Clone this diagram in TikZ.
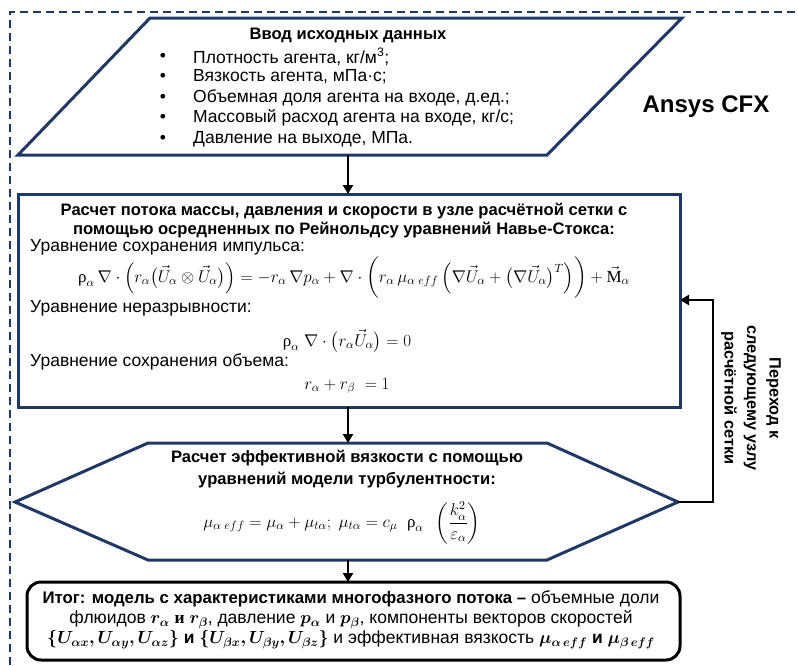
\documentclass[tikz,border=0pt]{standalone}
\usepackage{fix-cm}
\usepackage{amsmath}
\usepackage{bm}
\usepackage[no-math]{fontspec}
\setmainfont{Liberation Sans}
\newfontfamily\grfont{Liberation Serif}
\usetikzlibrary{arrows.meta}
\definecolor{navy}{HTML}{1F3864}
\newcommand\urho{\text{\grfont ρ}}
\newcommand\uM{\text{\grfont M}}
\begin{document}
\begin{tikzpicture}[x=1pt,y=-1pt,
  shp/.style={draw=navy,line width=3pt,line join=miter},
  arr/.style={line width=2.4pt,-{Triangle[length=9pt,width=10pt]}},
  txt/.style={font=\fontsize{17.5}{20.5}\selectfont,inner sep=0pt},
  btxt/.style={font=\fontsize{16.6}{19}\selectfont\bfseries,inner sep=0pt},
  eq/.style={font=\fontsize{17}{20}\selectfont,inner sep=0pt}]
\useasboundingbox (0,0) rectangle (798,665);
% frame
\draw[navy,line width=1.1pt,dash pattern=on 8pt off 5pt] (10,665) -- (10,12) -- (798,12);
% input parallelogram
\draw[shp] (150,18) -- (682,18) -- (547,155) -- (18,155) -- cycle;
\coordinate (inbot) at (348,155);
\node[btxt] (intitle) at (348,35) {Ввод исходных данных};
\foreach \y/\t [count=\i] in {57/{Плотность агента, кг/м\textsuperscript{3};},
  77/{Вязкость агента, мПа·с;},
  98/{Объемная доля агента на входе, д.ед.;},
  118/{Массовый расход агента на входе, кг/с;},
  139/{Давление на выходе, МПа.}}{
  \node[txt] (bul\i) at (163,\y) {•};
  \node[txt,anchor=west] (in\i) at (193,\y) {\t};
}
\node[font=\fontsize{24}{28}\selectfont\bfseries,inner sep=0pt] (ansys) at (706,107) {Ansys CFX};
% calc rectangle
\draw[shp] (18,194) rectangle (680,407);
\coordinate (calctop) at (348,194);
\coordinate (calcbot) at (348,407);
\coordinate (calcright) at (680,300);
\node[btxt,align=center] (calctitle) at (344,221) {Расчет потока массы, давления и скорости в узле расчётной сетки с\\помощью осредненных по Рейнольдсу уравнений Навье-Стокса:};
\node[txt,anchor=west] (l1) at (30,247) {Уравнение сохранения импульса:};
\node[eq] (eq1) at (354,278) {$\urho_\alpha\,\nabla\cdot\Bigl(r_\alpha\bigl(\vec{U}_\alpha\otimes\vec{U}_\alpha\bigr)\Bigr)=-r_\alpha\,\nabla p_\alpha+\nabla\cdot\biggl(r_\alpha\,\mu_{\alpha\;eff}\,\Bigl(\nabla\vec{U}_\alpha+\bigl(\nabla\vec{U}_\alpha\bigr)^{T}\Bigr)\biggr)+\vec{\uM}_\alpha$};
\node[txt,anchor=west] (l2) at (30,308) {Уравнение неразрывности:};
\node[eq] (eq2) at (347,341) {$\urho_\alpha\;\nabla\cdot\bigl(r_\alpha\vec{U}_\alpha\bigr)=0$};
\node[txt,anchor=west] (l3) at (30,362) {Уравнение сохранения объема:};
\node[eq] (eq3) at (347,386) {$r_\alpha+r_\beta\;=1$};
% hexagon
\draw[shp] (148,443) -- (547,443) -- (678,502) -- (547,560) -- (148,560) -- (15,502) -- cycle;
\coordinate (hextop) at (348,443);
\coordinate (hexbot) at (348,560);
\coordinate (hexright) at (678,502);
\node[btxt,align=center,font=\fontsize{16.6}{22}\selectfont\bfseries] (hextitle) at (347,469) {Расчет эффективной вязкости с помощью\\уравнений модели турбулентности:};
\node[eq] (eq4) at (342,523) {$\mu_{\alpha\;eff}=\mu_\alpha+\mu_{t\alpha};\;\mu_{t\alpha}=c_\mu\;\;\urho_\alpha\;\;\left(\dfrac{k_\alpha^2}{\varepsilon_\alpha}\right)$};
% result
\draw[line width=3pt,rounded corners=14pt] (27,582) rectangle (680,660);
\coordinate (restop) at (348,582);
\node[txt,align=center,font=\fontsize{17.5}{20}\selectfont] (restext) at (351,620) {{\fontsize{16.8}{20}\selectfont\bfseries Итог: модель с характеристиками многофазного потока –} объемные доли\\
флюидов $\bm{r_\alpha}$ {\grfont\bfseries и} $\bm{r_\beta}$, давление $\bm{p_\alpha}$ и $\bm{p_\beta}$, компоненты векторов скоростей\\
$\bm{\{U_{\alpha x}, U_{\alpha y}, U_{\alpha z}\}}$ \textbf{и} $\bm{\{U_{\beta x}, U_{\beta y}, U_{\beta z}\}}$ и эффективная вязкость $\bm{\mu_{\alpha\,eff}}$ \textbf{и} $\bm{\mu_{\beta\,eff}}$};
% connectors
\draw[arr] (inbot) -- (calctop);
\draw[arr] (calcbot) -- (hextop);
\draw[arr] (hexbot) -- (restop);
\coordinate (fb1) at (713,502);
\coordinate (fb2) at (713,300);
\draw[arr,line join=miter] (hexright) -- (fb1) -- (fb2) -- (calcright);
\node[font=\fontsize{16.3}{22.5}\selectfont\bfseries,inner sep=0pt,rotate=-90,align=center] (fbtext) at (751,398) {Переход к\\следующему узлу\\расчётной сетки};
\end{tikzpicture}
\end{document}
